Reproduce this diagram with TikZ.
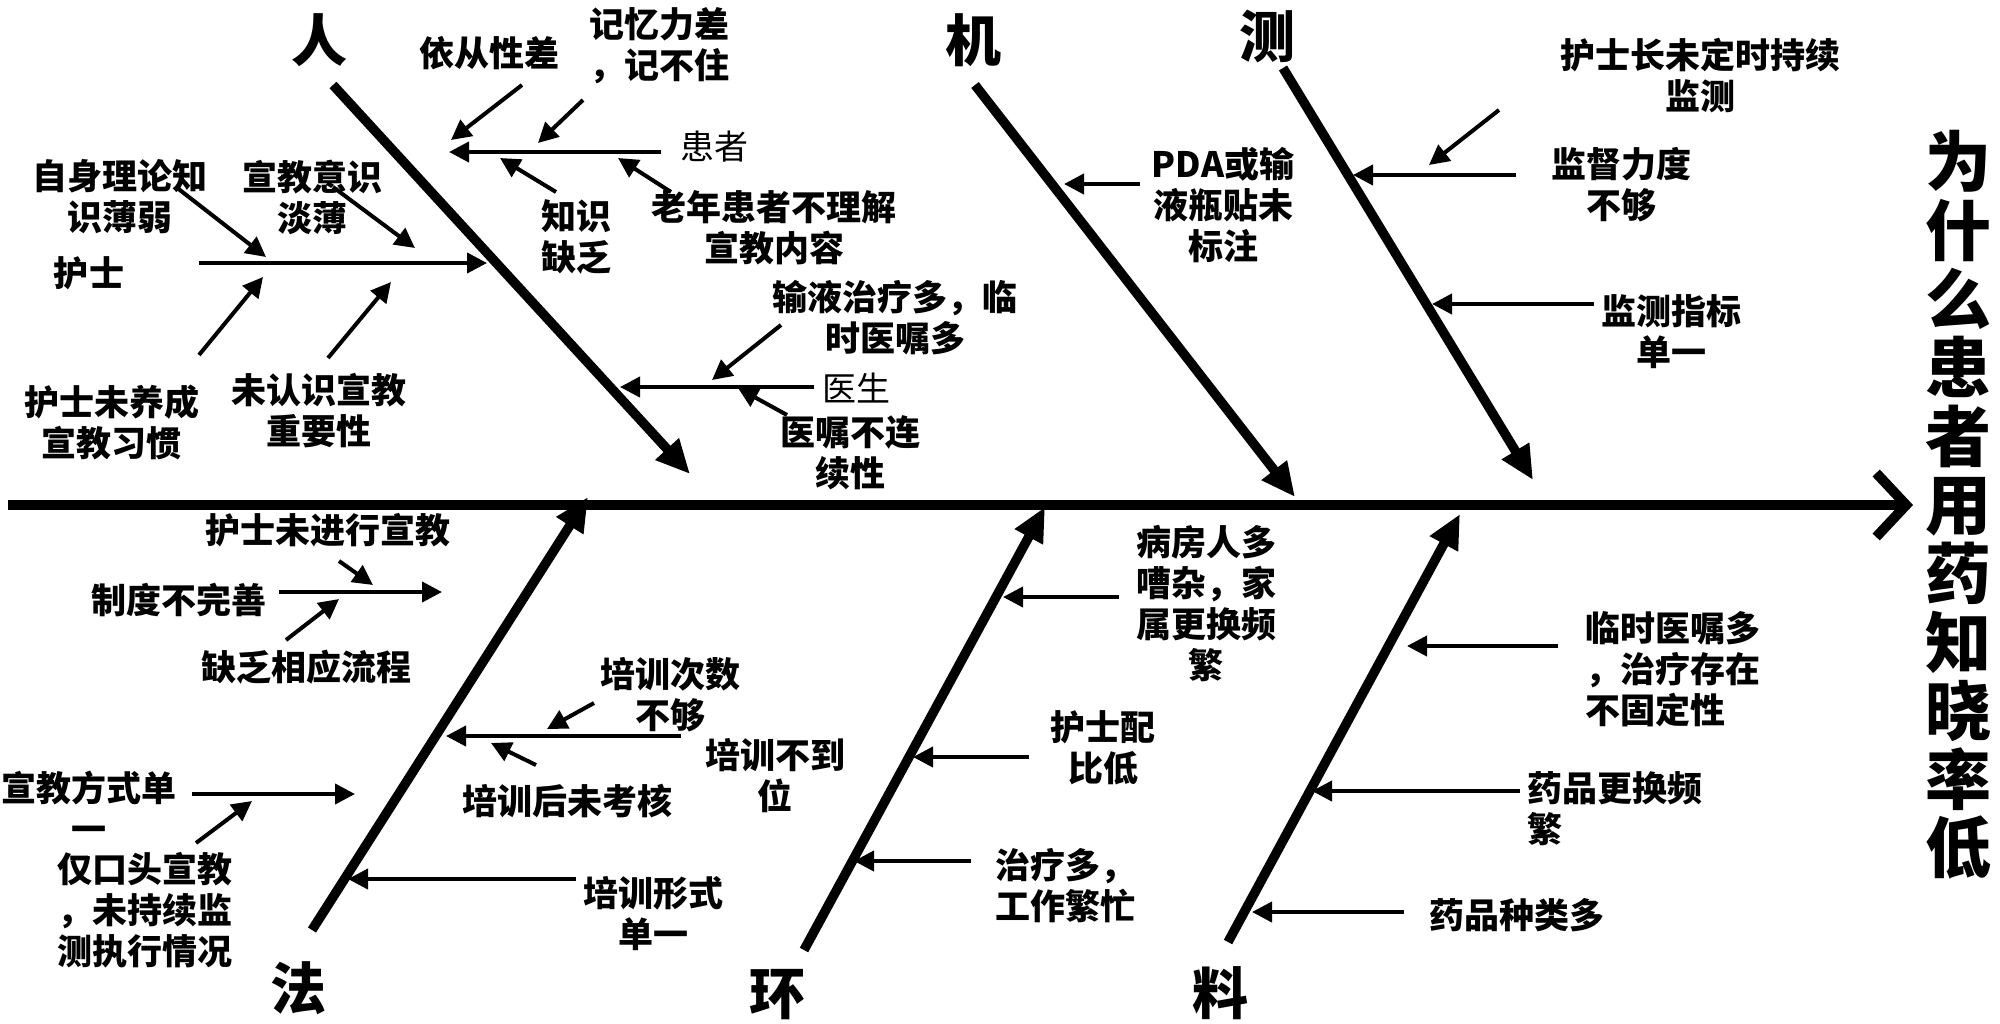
\documentclass[tikz,border=0pt]{standalone}
\usepackage{fontspec}
\newfontfamily\cjk{Noto Sans CJK SC}
\usetikzlibrary{arrows.meta}
\begin{document}
\begin{tikzpicture}[x=0.5pt,y=-0.5pt,
  lab/.style={font=\cjk\bfseries\fontsize{17.5}{20.5}\selectfont, align=center, inner sep=0pt},
  labl/.style={lab, align=left, anchor=west},
  cat/.style={font=\cjk\bfseries\fontsize{28}{30}\selectfont, inner sep=0pt},
  thinlab/.style={font=\cjk\fontsize{17}{20}\selectfont, inner sep=0pt},
  titlelab/.style={font=\cjk\bfseries\fontsize{33}{34.3}\selectfont, align=center, inner sep=0pt},
  bone/.style={line width=4.75pt, -{Triangle[length=17pt,width=15pt]}},
  sub/.style={line width=2pt, -{Triangle[length=10pt,width=10pt]}},
  spine/.style={line width=5pt, -{Straight Barb[length=15pt,width=32pt]}},
]
\useasboundingbox (0,0) rectangle (2000,1023);
\fill[white] (0,0) rectangle (2000,1023);

% spine and title
\coordinate (sp0) at (8,505);
\coordinate (sp1) at (1913,505);
\draw[spine] (sp0) -- (sp1);
\node[titlelab] (title) at (1958,505) {为\\什\\么\\患\\者\\用\\药\\知\\晓\\率\\低};

% category labels
\node[cat] (ren) at (319,40) {人};
\node[cat] (ji) at (973,40) {机};
\node[cat] (ce) at (1267,36) {测};
\node[cat] (fa) at (298,988) {法};
\node[cat] (huan) at (777,995) {环};
\node[cat] (liao) at (1220,993) {料};

% bones
\coordinate (b1s) at (333,85);   \coordinate (b1e) at (690,474);
\coordinate (b2s) at (975,85);   \coordinate (b2e) at (1295,497);
\coordinate (b3s) at (1283,68);  \coordinate (b3e) at (1533,480);
\coordinate (b4s) at (312,930);  \coordinate (b4e) at (588,497);
\coordinate (b5s) at (804,950);  \coordinate (b5e) at (1045,507);
\coordinate (b6s) at (1228,942); \coordinate (b6e) at (1460,514);
\draw[bone] (b1s) -- (b1e);
\draw[bone] (b2s) -- (b2e);
\draw[bone] (b3s) -- (b3e);
\draw[bone] (b4s) -- (b4e);
\draw[bone] (b5s) -- (b5e);
\draw[bone] (b6s) -- (b6e);

% ===== 人 =====
\node[lab] (hushi) at (89,273) {护士};
\node[lab] (zishen) at (120,197) {自身理论知\\识薄弱};
\node[lab] (xjyishi) at (312,197) {宣教意识\\淡薄};
\node[lab] (weiyang) at (112,422) {护士未养成\\宣教习惯};
\node[lab] (weirenshi) at (319,411) {未认识宣教\\重要性};
\node[thinlab] (huanzhe) at (714,147) {患者};
\node[lab] (yicong) at (489,53) {依从性差};
\node[lab] (jiyi) at (659,46) {记忆力差\\，记不住};
\node[lab] (zhishi) at (576,237) {知识\\缺乏};
\node[lab] (laonian) at (774,228) {老年患者不理解\\宣教内容};
\node[thinlab] (yisheng) at (856,388) {医生};
\node[lab] (shuye) at (895,318) {输液治疗多，临\\时医嘱多};
\node[lab] (yizhu) at (850,453) {医嘱不连\\续性};

\coordinate (r1s) at (199,263); \coordinate (r1e) at (487,263);
\coordinate (r2s) at (176,187); \coordinate (r2e) at (266,257);
\coordinate (r3s) at (333,187); \coordinate (r3e) at (415,248);
\coordinate (r4s) at (199,355); \coordinate (r4e) at (263,277);
\coordinate (r5s) at (328,358); \coordinate (r5e) at (391,282);
\coordinate (r6s) at (661,152); \coordinate (r6e) at (449,152);
\coordinate (r7s) at (522,85);  \coordinate (r7e) at (451,140);
\coordinate (r8s) at (583,100); \coordinate (r8e) at (538,143);
\coordinate (r9s) at (556,192); \coordinate (r9e) at (500,158);
\coordinate (r10s) at (671,192); \coordinate (r10e) at (618,158);
\coordinate (r11s) at (814,387); \coordinate (r11e) at (620,387);
\coordinate (r12s) at (781,325); \coordinate (r12e) at (712,380);
\coordinate (r13s) at (787,415); \coordinate (r13e) at (738,388);
\foreach \i in {1,...,13} {\draw[sub] (r\i s) -- (r\i e);}

% ===== 机 =====
\node[lab] (pda) at (1223,205) {PDA或输\\液瓶贴未\\标注};
\coordinate (j1s) at (1140,184); \coordinate (j1e) at (1064,184);
\draw[sub] (j1s) -- (j1e);

% ===== 测 =====
\node[lab] (hushizhang) at (1700,76) {护士长未定时持续\\监测};
\node[lab] (jiandu) at (1621,185) {监督力度\\不够};
\node[lab] (jiance) at (1671,332) {监测指标\\单一};
\coordinate (c1s) at (1499,110); \coordinate (c1e) at (1429,165);
\coordinate (c2s) at (1516,175); \coordinate (c2e) at (1353,175);
\coordinate (c3s) at (1594,304); \coordinate (c3e) at (1432,304);
\foreach \i in {1,2,3} {\draw[sub] (c\i s) -- (c\i e);}

% ===== 法 =====
\node[lab] (weijinxing) at (328,530) {护士未进行宣教};
\node[lab] (zhidu) at (179,600) {制度不完善};
\node[lab] (quefa) at (306,667) {缺乏相应流程};
\node[lab] (fangshi) at (89,807) {宣教方式单\\一};
\node[lab] (koutou) at (145,910) {仅口头宣教\\，未持续监\\测执行情况};
\node[lab] (cishu) at (670,695) {培训次数\\不够};
\node[lab] (budaowei) at (775,776) {培训不到\\位};
\node[lab] (kaohe) at (567,801) {培训后未考核};
\node[lab] (xingshi) at (653,914) {培训形式\\单一};
\coordinate (f1s) at (339,561); \coordinate (f1e) at (373,585);
\coordinate (f2s) at (279,592); \coordinate (f2e) at (442,592);
\coordinate (f3s) at (286,640); \coordinate (f3e) at (339,599);
\coordinate (f4s) at (192,794); \coordinate (f4e) at (355,794);
\coordinate (f5s) at (196,843); \coordinate (f5e) at (252,801);
\coordinate (f6s) at (681,736); \coordinate (f6e) at (446,736);
\coordinate (f7s) at (594,703); \coordinate (f7e) at (547,729);
\coordinate (f8s) at (536,765); \coordinate (f8e) at (491,743);
\coordinate (f9s) at (576,879); \coordinate (f9e) at (348,879);
\foreach \i in {1,...,9} {\draw[sub] (f\i s) -- (f\i e);}

% ===== 环 =====
\node[lab] (bingfang) at (1206,604) {病房人多\\嘈杂，家\\属更换频\\繁};
\node[lab] (peibi) at (1103,748) {护士配\\比低};
\node[lab] (zhiliao) at (1065,886) {治疗多，\\工作繁忙};
\coordinate (h1s) at (1119,597); \coordinate (h1e) at (1003,597);
\coordinate (h2s) at (1029,757); \coordinate (h2e) at (913,757);
\coordinate (h3s) at (971,861);  \coordinate (h3e) at (854,861);
\foreach \i in {1,2,3} {\draw[sub] (h\i s) -- (h\i e);}

% ===== 料 =====
\node[labl] (linshi) at (1585,669) {临时医嘱多\\，治疗存在\\不固定性};
\node[labl] (genghuan) at (1527,809) {药品更换频\\繁};
\node[lab] (zhonglei) at (1517,915) {药品种类多};
\coordinate (l1s) at (1558,646); \coordinate (l1e) at (1407,646);
\coordinate (l2s) at (1520,791); \coordinate (l2e) at (1312,791);
\coordinate (l3s) at (1404,912); \coordinate (l3e) at (1252,912);
\foreach \i in {1,2,3} {\draw[sub] (l\i s) -- (l\i e);}
\end{tikzpicture}
\end{document}
